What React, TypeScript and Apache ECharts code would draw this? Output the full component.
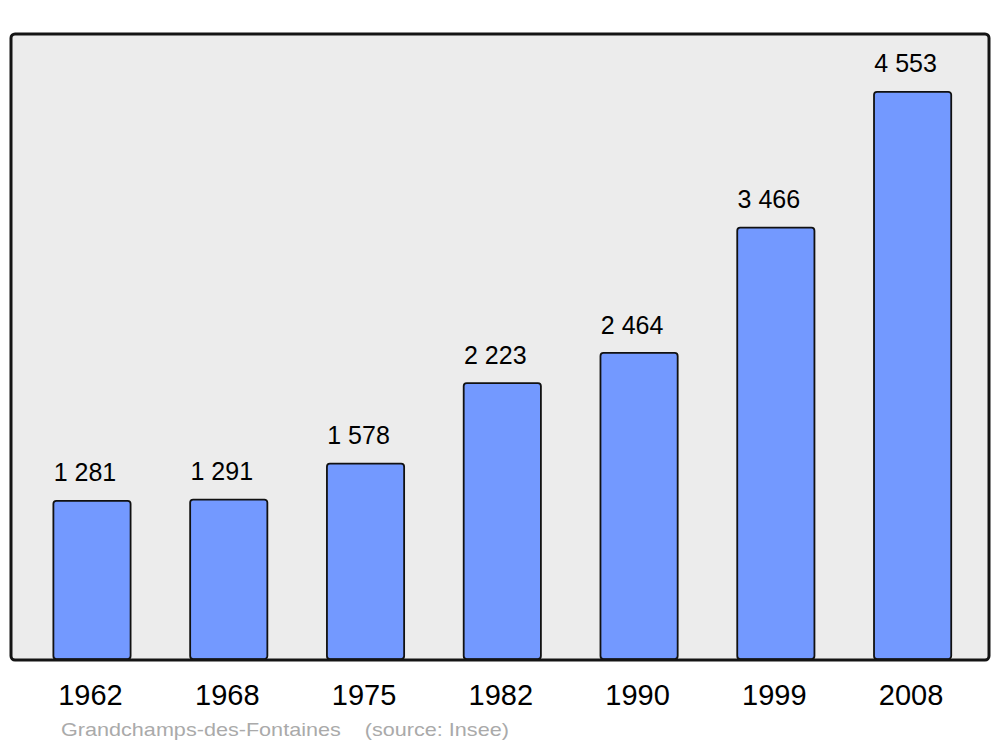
import React, { useEffect, useRef } from "react";
import * as echarts from "echarts";

const years = ["1962", "1968", "1975", "1982", "1990", "1999", "2008"];
const population = [1281, 1291, 1578, 2223, 2464, 3466, 4553];
const footerText = "Grandchamps-des-Fontaines    (source: Insee)";

const fmt = (v: number) => String(v).replace(/\B(?=(\d{3})+(?!\d))/g, " ");

export default function App() {
  const ref = useRef<HTMLDivElement>(null);
  useEffect(() => {
    if (!ref.current) return;
    const chart = echarts.init(ref.current, null, { renderer: "svg" });
    chart.setOption({
      animation: false,
      backgroundColor: "#ffffff",
      textStyle: { fontFamily: "Liberation Sans" },
      grid: { left: 23.6, right: 19, top: 34, bottom: 87, containLabel: false },
      graphic: [
        {
          type: "rect",
          z: -10,
          shape: { x: 11, y: 34, width: 978, height: 626, r: 4 },
          style: { fill: "#ececec", stroke: "none" },
          silent: true,
        },
        {
          type: "rect",
          z: 100,
          shape: { x: 11, y: 34, width: 978, height: 626, r: 4 },
          style: { fill: "none", stroke: "#141414", lineWidth: 3 },
          silent: true,
        },
        {
          type: "text",
          x: 61,
          y: 730,
          scaleX: 1.235,
          style: {
            text: footerText,
            fill: "#aaaaaa",
            fontSize: 17.5,
            fontFamily: "Liberation Sans",
            verticalAlign: "middle",
            align: "left",
          },
        },
      ],
      xAxis: {
        type: "category",
        data: years,
        axisLine: { show: false },
        axisTick: { show: false },
        splitLine: { show: false },
        axisLabel: {
          color: "#000",
          fontSize: 29,
          margin: 20,
          padding: [0, 3, 0, 0],
          fontFamily: "Liberation Sans",
        },
      },
      yAxis: {
        type: "value",
        min: 0,
        max: 5008,
        show: false,
        splitLine: { show: false },
      },
      series: [
        {
          type: "bar",
          data: population,
          barWidth: 79,
          itemStyle: {
            color: "#7399ff",
            borderColor: "#111",
            borderWidth: 1.8,
            borderRadius: 3,
          },
          label: {
            show: true,
            position: "top",
            distance: 15,
            offset: [-7, 0],
            color: "#000",
            fontSize: 25,
            fontFamily: "Liberation Sans",
            formatter: (p: any) => fmt(p.value),
          },
        },
      ],
    });
    return () => chart.dispose();
  }, []);
  return <div ref={ref} style={{ width: 1000, height: 747, position: "absolute", left: 0, top: 0 }} />;
}
